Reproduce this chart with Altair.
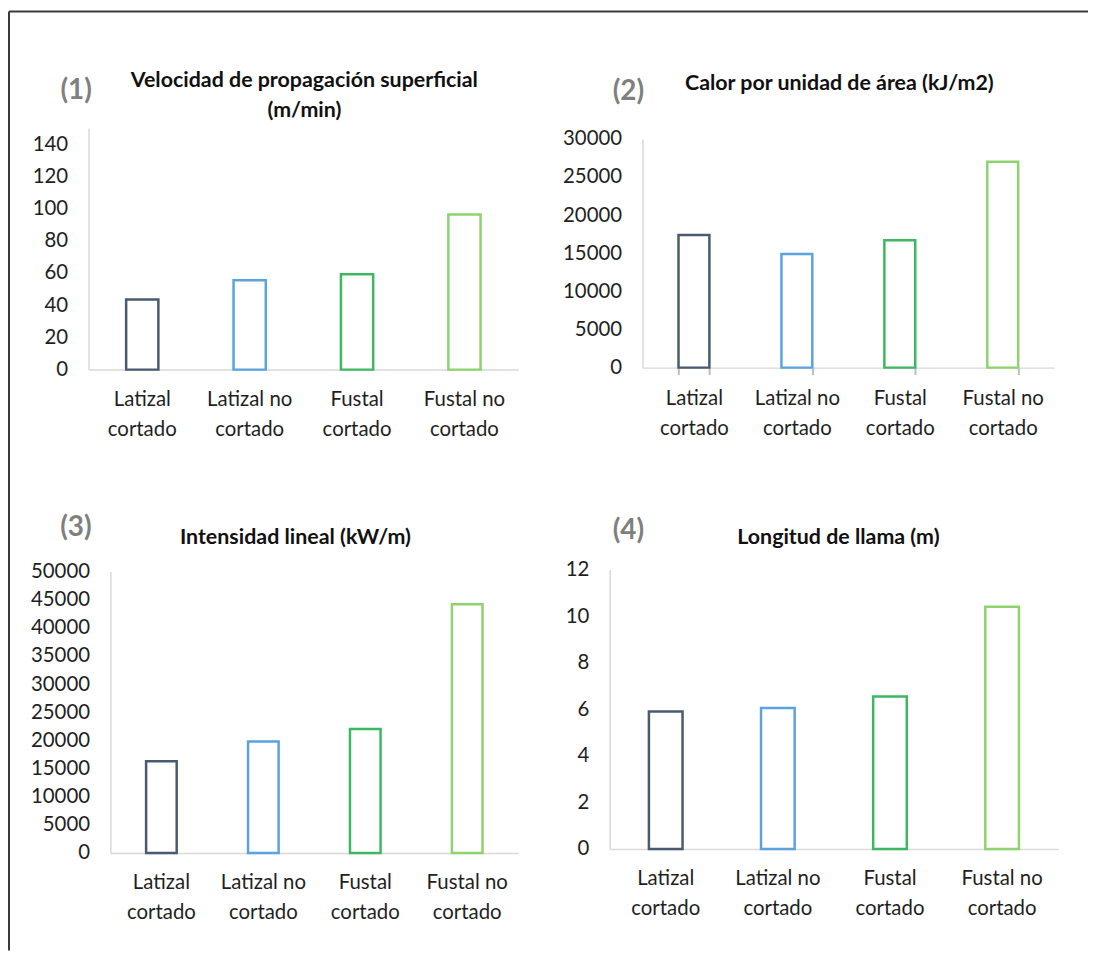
import altair as alt
import pandas as pd

# ---------------- data ----------------
categories = ["Latizal cortado", "Latizal no cortado", "Fustal cortado", "Fustal no cortado"]
bar_colors = ["#4A5A70", "#5BA3DE", "#3DB862", "#8ED36E"]

velocidad = [43.5, 55.5, 59.2, 96.3]          # (1) m/min
calor = [17400, 14900, 16700, 27000]          # (2) kJ/m2
intensidad = [16300, 19800, 22000, 44200]     # (3) kW/m
longitud = [5.9, 6.05, 6.55, 10.4]            # (4) m

panel_numbers = ["(1)", "(2)", "(3)", "(4)"]
title_lines = [
    ["Velocidad de propagación superficial", "(m/min)"],
    ["Calor por unidad de área (kJ/m2)"],
    ["Intensidad lineal (kW/m)"],
    ["Longitud de llama (m)"],
]
y_domains = [[0, 150], [0, 30000], [0, 50000], [0, 12]]
y_ticks = [
    [0, 20, 40, 60, 80, 100, 120, 140],
    [0, 5000, 10000, 15000, 20000, 25000, 30000],
    [0, 5000, 10000, 15000, 20000, 25000, 30000, 35000, 40000, 45000, 50000],
    [0, 2, 4, 6, 8, 10, 12],
]

FONT = "Lato"
AXIS_GRAY = "#D9D9D9"
LABEL_EXPR = "split(replace(datum.label, ' cortado', '|cortado'), '|')"


def panel(values, yd, yt, num, tlines, width, height, xrange, yrange,
          yoff, xoff, num_pos, title_x, title_ys, xticks=False, border=False):
    df = pd.DataFrame({"cat": categories, "val": values})
    if xticks:
        xaxis = alt.Axis(labelAngle=0, labelExpr=LABEL_EXPR, offset=xoff,
                         ticks=True, tickBand="extent", tickSize=7,
                         tickColor="#BDBDBD", tickWidth=2, tickOpacity=1,
                         labelPadding=14)
    else:
        xaxis = alt.Axis(labelAngle=0, labelExpr=LABEL_EXPR, offset=xoff,
                         ticks=False, tickSize=0, labelPadding=20)
    bars = alt.Chart(df).mark_bar(fill="white", strokeWidth=2.5).encode(
        x=alt.X("cat:N", sort=categories, title=None,
                scale=alt.Scale(range=xrange, paddingInner=0.7, paddingOuter=0.35),
                axis=xaxis),
        y=alt.Y("val:Q", title=None,
                scale=alt.Scale(domain=yd, range=yrange, nice=False, zero=True),
                axis=alt.Axis(values=yt, format="d", ticks=False, tickSize=0,
                              grid=False, labelPadding=21, offset=yoff)),
        stroke=alt.Stroke("cat:N", scale=alt.Scale(domain=categories, range=bar_colors),
                          legend=None),
    )
    layers = [bars]
    ndf = pd.DataFrame({"t": [num]})
    layers.append(
        alt.Chart(ndf).mark_text(font=FONT, fontSize=28, fontWeight="bold",
                                 color="#7F7F7F", align="center", baseline="middle")
        .encode(x=alt.value(num_pos[0]), y=alt.value(num_pos[1]), text="t:N")
    )
    for line, ty in zip(tlines, title_ys):
        tdf = pd.DataFrame({"t": [line]})
        layers.append(
            alt.Chart(tdf).mark_text(font=FONT, fontSize=21.5, fontWeight="bold",
                                     color="#111111", align="center", baseline="middle")
            .encode(x=alt.value(title_x), y=alt.value(ty), text="t:N")
        )
    if border:
        bdf = pd.DataFrame({"b": [0]})
        layers.append(
            alt.Chart(bdf).mark_rule(color="#3A3A3A", strokeWidth=2)
            .encode(x=alt.value(-80), x2=alt.value(1005), y=alt.value(-117))
        )
        layers.append(
            alt.Chart(bdf).mark_rule(color="#3A3A3A", strokeWidth=2)
            .encode(x=alt.value(-80), y=alt.value(-117), y2=alt.value(827))
        )
    return alt.layer(*layers).properties(width=width, height=height)


p1 = panel(velocidad, y_domains[0], y_ticks[0], panel_numbers[0], title_lines[0],
           432, 243, [0, 432], [243, 0], 0, 0, (-12.5, -37.5), 217, [-47, -17],
           border=True)
p2 = panel(calor, y_domains[1], y_ticks[1], panel_numbers[1], title_lines[1],
           451, 243, [33, 447], [241, 11], -33, -2, (18.8, -36.5), 231, [-44],
           xticks=True)
p3 = panel(intensidad, y_domains[2], y_ticks[2], panel_numbers[2], title_lines[2],
           432, 285, [22, 432], [285, 2], -22, 0, (-12.7, -41.2), 208, [-32])
p4 = panel(longitud, y_domains[3], y_ticks[3], panel_numbers[3], title_lines[3],
           451, 285, [0, 451], [281, 0], 0, -4, (18.8, -38.7), 230, [-32])

chart = alt.concat(
    p1, p2, p3, p4, columns=2, bounds="flush", align="each",
    spacing={"row": 201, "column": 92},
).properties(padding=0).configure_view(stroke=None).configure_axis(
    labelFont=FONT, labelFontSize=20.5, labelColor="#1F1F1F",
    domainColor=AXIS_GRAY, domainWidth=1.5, grid=False, labelLineHeight=30,
)

chart.save("out.html", embed_options={"renderer": "svg", "actions": False})
